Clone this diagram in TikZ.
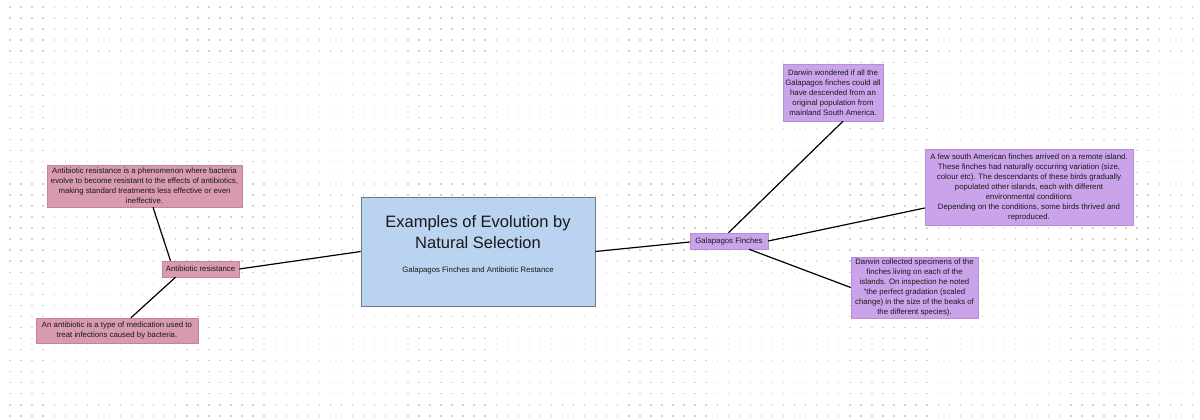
\documentclass[tikz,border=0pt]{standalone}
\usepackage{fontspec}
\setmainfont{Liberation Sans}
\usetikzlibrary{calc}
\definecolor{pinkbox}{HTML}{D89AAF}
\definecolor{pinkline}{HTML}{C48399}
\definecolor{purplebox}{HTML}{CAA3EA}
\definecolor{purpleline}{HTML}{B58ED6}
\definecolor{bluebox}{HTML}{B9D3F1}
\definecolor{blueline}{HTML}{6E7A88}
\definecolor{dotc}{HTML}{D2D2D2}
\tikzset{
  txt/.style={font=\fontsize{7.8}{10}\selectfont, align=center, text=black!90, inner sep=0pt},
  pinknode/.style={txt, fill=pinkbox, draw=pinkline, line width=0.5pt},
  purplenode/.style={txt, fill=purplebox, draw=purpleline, line width=0.5pt},
  link/.style={line width=1.2pt, black}
}
\begin{document}
\begin{tikzpicture}[x=1pt,y=-1pt]
\useasboundingbox (0,0) rectangle (1200,420);
\fill[white] (0,0) rectangle (1200,420);
% dot grid
\foreach \i in {0,...,107}{
  \foreach \j in {0,...,37}{
    \fill[dotc] ({10+11.05*\i-0.7},{7+11.05*\j-0.7}) rectangle ++(1.4,1.4);
  }
}
% central box
\node[fill=bluebox, draw=blueline, line width=0.6pt, minimum width=234pt, minimum height=109pt, inner sep=0pt] (main) at (478,251.5) {};
\node[txt, font=\fontsize{16.5}{20.5}\selectfont] (title) at (478,232) {Examples of Evolution by\\Natural Selection};
\node[txt] (sub) at (478,270) {Galapagos Finches and Antibiotic Restance};

% left side
\node[pinknode, minimum width=77pt, minimum height=16pt] (ar) at (200.5,269) {Antibiotic resistance};
\node[pinknode, minimum width=195pt, minimum height=42pt] (ar1) at (144.5,186) {Antibiotic resistance is a phenomenon where bacteria\\evolve to become resistant to the effects of antibiotics,\\making standard treatments less effective or even\\ineffective.};
\node[pinknode, minimum width=162pt, minimum height=25pt] (ar2) at (117,330.5) {An antibiotic is a type of medication used to\\treat infections caused by bacteria.};

% right side
\node[purplenode, minimum width=78pt, minimum height=16pt] (gf) at (729,241) {Galapagos Finches};
\node[purplenode, minimum width=100pt, minimum height=57pt] (gf1) at (833,92.5) {Darwin wondered if all the\\Galapagos finches could all\\have descended from an\\original population from\\mainland South America.};
\node[purplenode, minimum width=208pt, minimum height=76pt] (gf2) at (1029,187) {A few south American finches arrived on a remote island.\\These finches had naturally occurring variation (size,\\colour etc). The descendants of these birds gradually\\populated other islands, each with different\\environmental conditions\\Depending on the conditions, some birds thrived and\\reproduced.};
\node[purplenode, minimum width=127pt, minimum height=61pt] (gf3) at (914.5,287.5) {Darwin collected specimens of the\\finches living on each of the\\islands. On inspection he noted\\“the perfect gradation (scaled\\change) in the size of the beaks of\\the different species).};

% connectors
\draw[link] ([xshift=8.5pt]ar1.south) -- ([xshift=-30pt]ar.north);
\draw[link] ([xshift=-25pt]ar.south) -- ([xshift=14pt]ar2.north);
\draw[link] (ar.east) -- ([yshift=0pt]main.west);
\draw[link] (main.east) -- ([yshift=-1pt]gf.west);
\draw[link] ([xshift=-0.5pt]gf.north) -- ([xshift=10pt]gf1.south);
\draw[link] (gf.east) -- ([yshift=-21pt]gf2.west);
\draw[link] ([xshift=20pt]gf.south) -- ([yshift=0pt]gf3.west);
\end{tikzpicture}
\end{document}
